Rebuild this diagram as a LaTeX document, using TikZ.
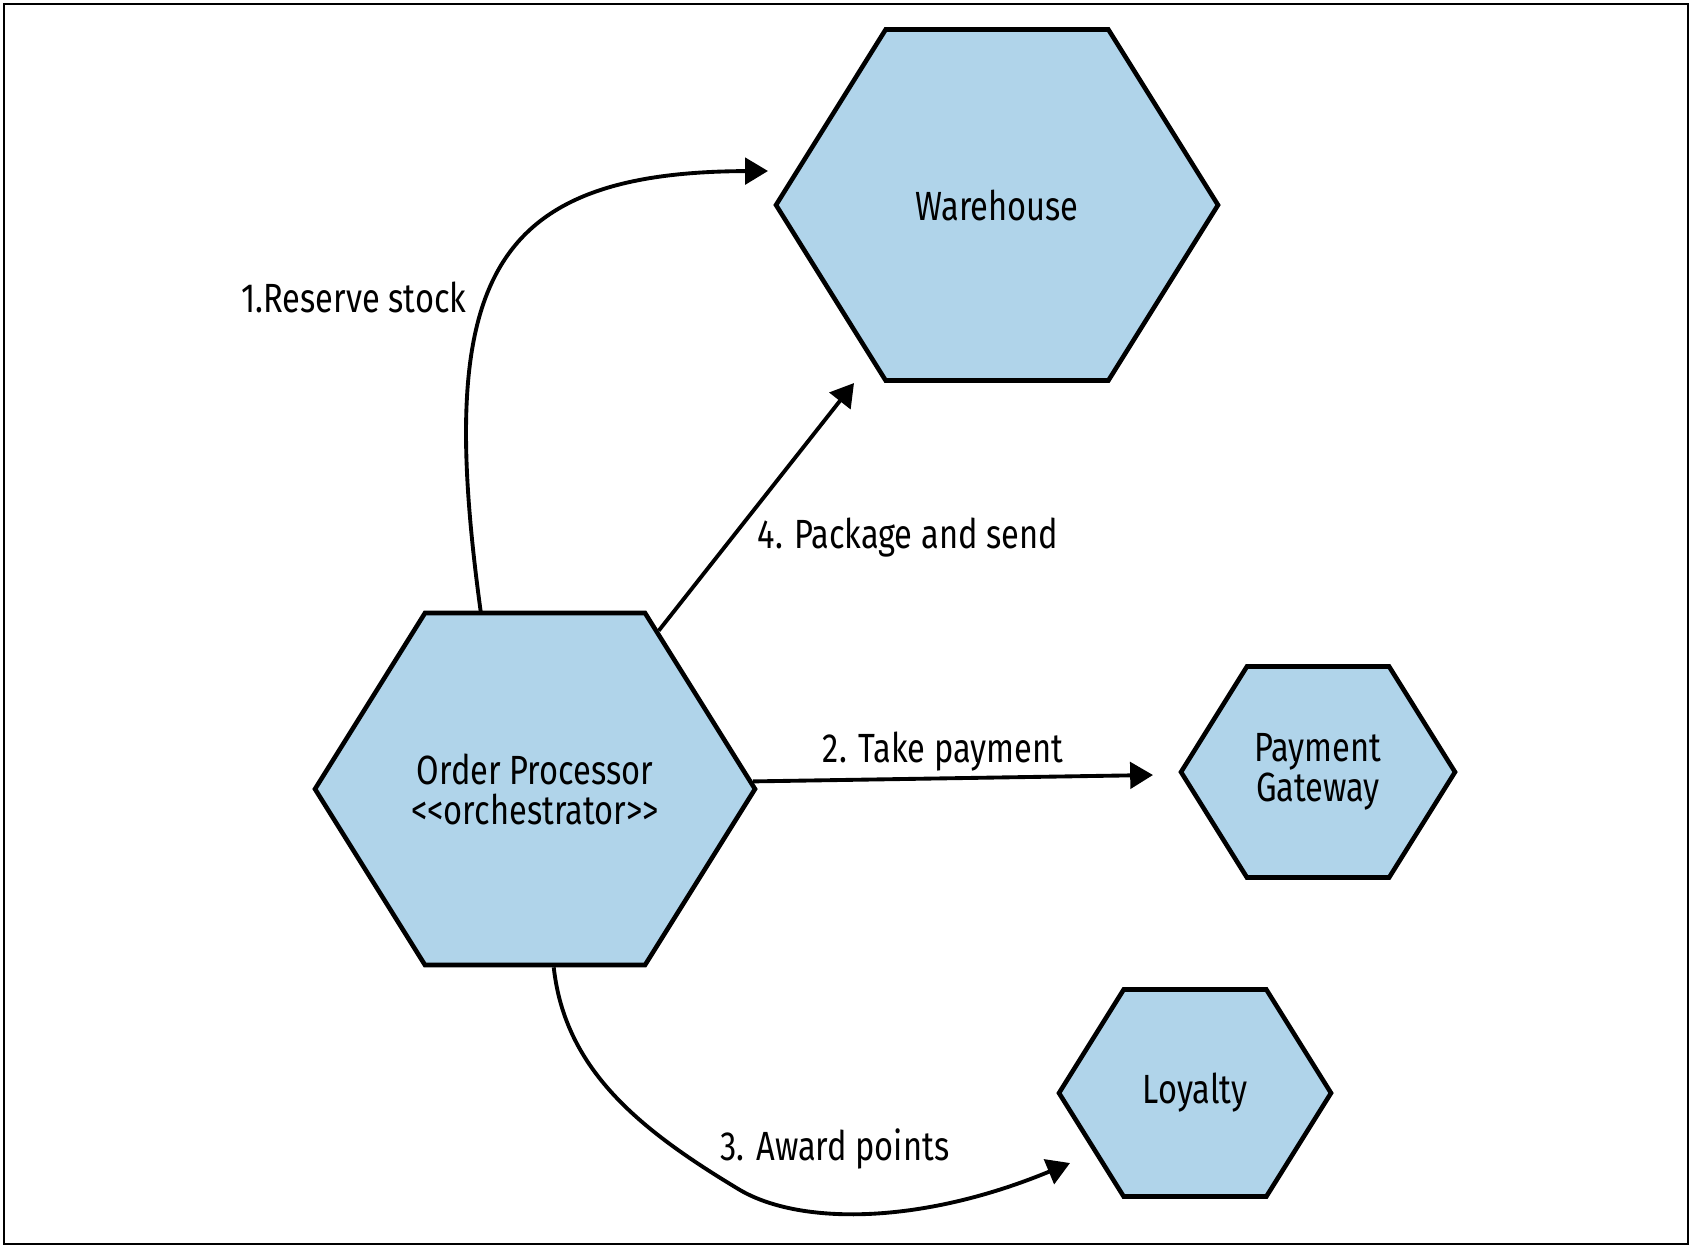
\documentclass[tikz,border=0pt]{standalone}
\usepackage{fontspec}
\setmainfont{Fira Sans}[FakeStretch=0.8, Ligatures=TeXOff]
\usepackage{tikz}
\usetikzlibrary{shapes.symbols,arrows.meta}
\pgfdeclarelayer{bg}
\pgfsetlayers{bg,main}
\definecolor{hexblue}{RGB}{176,212,234}
\tikzset{hex/.style={signal, signal to=east and west, signal pointer angle=116, draw=black, fill=hexblue, line width=1.3pt, inner sep=0pt}}
\tikzset{hextxt/.style={inner sep=0pt, align=center, font=\fontsize{11.6}{11.4}\selectfont}}
\tikzset{flow/.style={line width=1.1pt, -{Triangle[length=6.5pt,width=7.5pt]}}}
\tikzset{lbl/.style={inner sep=0pt, anchor=base west, font=\fontsize{11.6}{11.4}\selectfont}}

\begin{document}
\begin{tikzpicture}[x=0.1mm, y=-0.1mm]
    \useasboundingbox (0,0) rectangle (1694,1248);
    \draw[line width=0.5pt] (4,4) rectangle (1688,1244);

    \node (op) at (535,789) [hex, minimum width=44mm, minimum height=35.2mm, label={[hextxt]center:Order Processor\\<<orchestrator>>}] {};
    \node (wh) at (997,205) [hex, minimum width=44.2mm, minimum height=35.1mm, label={[hextxt]center:Warehouse}] {};
    \node (pg) at (1318,772) [hex, minimum width=27.4mm, minimum height=21.1mm, label={[hextxt]center:Payment\\Gateway}] {};
    \node (lo) at (1195,1093) [hex, minimum width=27.2mm, minimum height=20.7mm, label={[hextxt]center:Loyalty}] {};

    \coordinate (whtop) at (768,171);
    \coordinate (whbot) at (854,383);
    \coordinate (pgin) at (1153,775);
    \coordinate (loin) at (1070,1163);

    \begin{pgfonlayer}{bg}
        \draw[flow] (op.107) .. controls (436,285) and (485,172) .. (whtop);
        \draw[flow] (op.52) -- (whbot);
        \draw[flow] (op.2) -- (pgin);
        \draw[flow] (op.-84) .. controls (565,1070) and (640,1130) .. (740,1190)
            .. controls (800,1225) and (920,1225) .. (loin);
    \end{pgfonlayer}

    \node (l1) at (241,312) [lbl] {1.Reserve stock};
    \node (l4) at (757,548) [lbl] {4. Package and send};
    \node (l2) at (943,762) [lbl, anchor=base] {2. Take payment};
    \node (l3) at (720,1160) [lbl] {3. Award points};
\end{tikzpicture}
\end{document}
